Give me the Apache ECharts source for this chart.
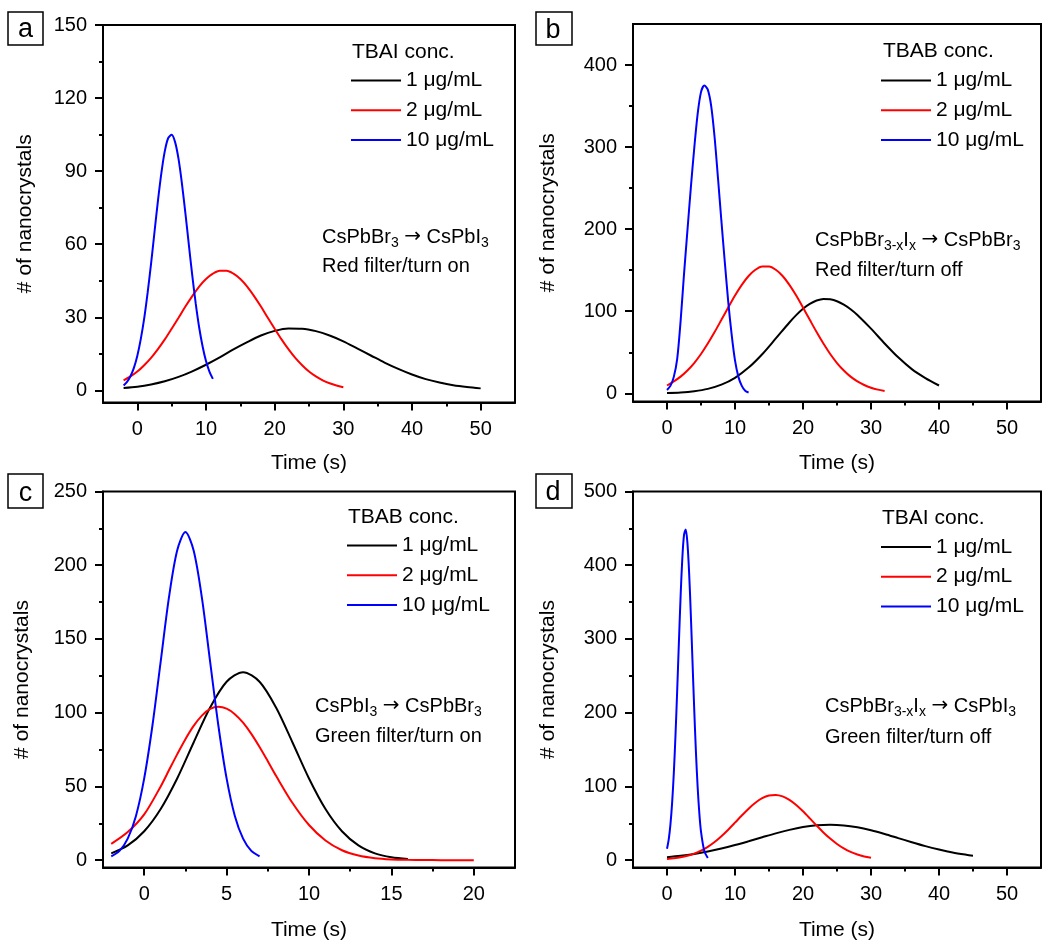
<!DOCTYPE html>
<html><head><meta charset="utf-8">
<script src="https://cdn.jsdelivr.net/npm/echarts@6/dist/echarts.min.js"></script>
<style>html,body{margin:0;padding:0;background:#fff}#c{width:1042px;height:942px}</style>
</head><body><div id="c"></div>
<script>
// ---------- data ----------
const seriesNames = ['1 μg/mL', '2 μg/mL', '10 μg/mL'];

// panel a: TBAI, CsPbBr3 -> CsPbI3, red filter / turn on
const a1 = [[-2,1.0],[0,1.5],[2,2.4],[4,3.7],[6,5.5],[8,7.8],[10,10.5],[12,13.5],[14,16.8],[16,19.8],[18,22.5],[20,24.4],[22,25.4],[24,25.3],[26,24.3],[28,22.5],[30,20.1],[32,17.2],[34,14.3],[36,11.4],[38,8.8],[40,6.5],[42,4.6],[44,3.2],[46,2.1],[48,1.35],[50,0.8]];
const a2 = [[-2,4.1],[-1,5.7],[0,7.7],[1,10.3],[2,13.3],[3,16.9],[4,20.9],[5,25.3],[6,29.8],[7,34.4],[8,38.7],[9,42.6],[10,45.7],[11,47.9],[12,49.1],[13,49.1],[14,47.9],[15,45.7],[16,42.6],[17,38.7],[18,34.4],[19,29.8],[20,25.3],[21,20.9],[22,16.9],[23,13.3],[24,10.3],[25,7.7],[26,5.7],[27,4.1],[28,2.9],[29,2.0],[30,1.3]];
const a3 = [[-2,2.0],[-1.5,3.5],[-1,5.8],[-0.5,9.2],[0,14.2],[0.5,21],[1,29.5],[1.5,40.1],[2,52],[2.5,65],[3,77.8],[3.5,89.2],[4,98.2],[4.5,103.6],[5,104.9],[5.5,101.9],[6,95],[6.5,84.8],[7,72.7],[7.5,59.8],[8,47.2],[8.5,35.7],[9,25.9],[9.5,18.1],[10,12],[10.5,7.7],[11,4.7]];

// panel b: TBAB, CsPbBr3-xIx -> CsPbBr3, red filter / turn off
const b1 = [[0,0.5],[2,1.1],[4,2.6],[6,5.4],[8,10.5],[10,18.9],[12,31.3],[14,47.6],[16,66.8],[18,86.3],[19,95.2],[20,103],[21,108.9],[22,113],[23,115],[24,114.5],[25,112.2],[26,108.1],[27,102.5],[28,95.5],[30,78.8],[32,60.7],[34,43.8],[36,29.5],[38,18.6],[40,9.5]];
const b2 = [[0,9.5],[1,14.5],[2,20.3],[3,27.8],[4,36.9],[5,47.9],[6,60.6],[7,74.6],[8,89.5],[9,104.6],[10,119.2],[11,132.2],[12,142.9],[13,150.5],[14,154.5],[15,154.5],[16,150.5],[17,142.9],[18,132.2],[19,119.2],[20,104.6],[21,89.5],[22,74.6],[23,60.6],[24,47.9],[25,36.9],[26,27.8],[27,20.3],[28,14.5],[29,10.1],[30,6.8],[31,4.5],[32,2.9]];
const b3 = [[0,4],[0.5,9],[1,20],[1.5,42],[2,88],[2.5,145],[3,198],[3.5,250],[4,298],[4.5,340],[5,367],[5.5,375],[6,370],[6.5,350],[7,312],[7.5,262],[8,210],[8.5,160],[9,112],[9.5,72],[10,40],[10.5,20],[11,9],[11.5,3],[12,1]];

// panel c: TBAB, CsPbI3 -> CsPbBr3, green filter / turn on
const c1 = [[-2,4.6],[-1,10],[0,19.6],[1,34.7],[2,55.4],[3,79.8],[4,103.5],[5,121],[6,127.5],[7,121],[8,103.5],[9,79.8],[10,55.4],[11,34.7],[12,19.6],[13,10],[14,4.6],[15,1.9],[16,0.7]];
const c2 = [[-2,11],[-1,19],[0,31],[1,50],[1.5,60.9],[2,71.7],[2.5,82],[3,91],[3.5,98],[4,102.5],[4.5,104],[5,102.7],[5.5,99],[6,93.2],[6.5,85.6],[7,76.7],[7.5,67.1],[8,57.2],[9,38.7],[10,23.8],[11,13.3],[12,6.7],[13,3.1],[14,1.3],[15,0.5],[16,0.2],[17,0.1],[18,0],[19,0],[20,0]];
const c3 = [[-2,2.5],[-1.5,6.3],[-1,14.6],[-0.5,30],[0,55.4],[0.5,91.3],[1,134.6],[1.5,178],[2,210],[2.5,222.5],[3,210],[3.5,178],[4,134.6],[4.5,91.3],[5,55.4],[5.5,30],[6,14.6],[6.5,6.3],[7,2.5]];

// panel d: TBAI, CsPbBr3-xIx -> CsPbI3, green filter / turn off
const d1 = [[0,3.9],[2,5.8],[4,8.4],[6,11.7],[8,15.7],[10,20.4],[12,25.6],[14,31],[16,36.3],[18,41],[20,44.8],[22,47.2],[24,48],[26,47.1],[28,44.5],[30,40.5],[32,35.5],[34,29.9],[36,24.3],[38,19],[40,14.4],[42,10.4],[44,7.3],[45,6]];
const d2 = [[0,1.4],[1,2.4],[2,3.8],[3,5.9],[4,8.9],[5,12.9],[6,18.1],[7,24.6],[8,32.4],[9,41.3],[10,50.8],[11,60.5],[12,69.8],[13,77.8],[14,84],[15,87.7],[16,88.5],[17,86.5],[18,81.8],[19,74.8],[20,66.2],[21,56.7],[22,46.9],[23,37.6],[24,29.2],[25,21.9],[26,15.9],[27,11.1],[28,7.6],[29,5.0],[30,3.2]];
const d3 = [[0,15.4],[0.25,27.8],[0.5,47.8],[0.75,77.3],[1,117.8],[1.25,169.7],[1.5,230.5],[1.75,295.6],[2,357.8],[2.25,408.8],[2.5,440.8],[2.75,448.5],[3,430.6],[3.25,390.3],[3.5,333.9],[3.75,269.5],[4,205.3],[4.25,147.6],[4.5,100.2],[4.75,64.2],[5,38.8],[5.5,11.9],[6,2.9]];

// tick values
const xTicksTime50 = [0,10,20,30,40,50];
const xMinorTime50 = [5,15,25,35,45];
const xTicksTime20 = [0,5,10,15,20];
const xMinorTime20 = [2.5,7.5,12.5,17.5];
const yTicksA = [0,30,60,90,120,150];
const yMinorA = [15,45,75,105,135];
const yTicksB = [0,100,200,300,400];
const yMinorB = [50,150,250,350];
const yTicksC = [0,50,100,150,200,250];
const yMinorC = [25,75,125,175,225];
const yTicksD = [0,100,200,300,400,500];
const yMinorD = [50,150,250,350,450];

// axis ranges
const xRangeA = [-5,55], yRangeA = [-5,150];
const xRangeB = [-5,55], yRangeB = [-10,450];
const xRangeC = [-2.5,22.5], yRangeC = [-5,250];
const xRangeD = [-5,55], yRangeD = [-10,500];

// texts
const legendTitles = ['TBAI conc.', 'TBAB conc.', 'TBAB conc.', 'TBAI conc.'];
const panelLetters = ['a', 'b', 'c', 'd'];
const noteLine1 = [
  '{n|CsPbBr}{s|3}{n| }{a|→}{n| CsPbI}{s|3}',
  '{n|CsPbBr}{s|3-x}{n|I}{s|x}{n| }{a|→}{n| CsPbBr}{s|3}',
  '{n|CsPbI}{s|3}{n| }{a|→}{n| CsPbBr}{s|3}',
  '{n|CsPbBr}{s|3-x}{n|I}{s|x}{n| }{a|→}{n| CsPbI}{s|3}'
];
const noteLine2 = ['Red filter/turn on', 'Red filter/turn off', 'Green filter/turn on', 'Green filter/turn off'];
const xTitle = 'Time (s)';
const yTitle = '# of nanocrystals';

// ---------- layout / styles ----------
const F = '"Liberation Sans", Arial, Helvetica, sans-serif';
const colors = ['#000000', '#ff0000', '#0000ff'];
const panels = [
  {grid:{left:103, top:25, width:412, height:377.5}, xr:xRangeA, yr:yRangeA, xt:xTicksTime50, xm:xMinorTime50, yt:yTicksA, ym:yMinorA, data:[a1,a2,a3], yGap:67, xGap:50,
   legend:{left:351, top:70}, title:[352,52.5], notes:[322,237,266], box:[8,12,35,33], letter:[25.5,30]},
  {grid:{left:633, top:24, width:408, height:377.5}, xr:xRangeB, yr:yRangeB, xt:xTicksTime50, xm:xMinorTime50, yt:yTicksB, ym:yMinorB, data:[b1,b2,b3], yGap:74, xGap:51,
   legend:{left:881, top:70}, title:[883,51.5], notes:[815,240,270], box:[536,12,36,33], letter:[553,31]},
  {grid:{left:103, top:491.5, width:412, height:376}, xr:xRangeC, yr:yRangeC, xt:xTicksTime20, xm:xMinorTime20, yt:yTicksC, ym:yMinorC, data:[c1,c2,c3], yGap:70.5, xGap:52.5,
   legend:{left:347, top:535}, title:[348,517], notes:[315,706,736], box:[8,474,35,34], letter:[25.5,493.5]},
  {grid:{left:633, top:491.5, width:408, height:376}, xr:xRangeD, yr:yRangeD, xt:xTicksTime50, xm:xMinorTime50, yt:yTicksD, ym:yMinorD, data:[d1,d2,d3], yGap:74, xGap:52.5,
   legend:{left:881, top:536.5}, title:[882,518.5], notes:[825,706,737], box:[536,474,36,34], letter:[553,493]}
];

const nameStyle = {fontSize:21, fontFamily:F, color:'#000'};
const lineBlack = {color:'#000', width:2};

const grids = [], xMain = [], yMain = [], xMin = [], yMin = [], series = [], legends = [], graphics = [];
panels.forEach((p, gi) => {
  grids.push(Object.assign({show:true, borderColor:'#000', borderWidth:2, backgroundColor:'transparent', containLabel:false, outerBoundsMode:'none'}, p.grid));
  xMain.push({type:'value', gridIndex:gi, position:'bottom', min:p.xr[0], max:p.xr[1],
    name:xTitle, nameLocation:'middle', nameGap:p.xGap, nameTextStyle:nameStyle,
    axisLine:{show:true, onZero:false, lineStyle:lineBlack},
    axisTick:{show:true, inside:false, length:8, lineStyle:lineBlack, customValues:p.xt},
    axisLabel:{show:true, margin:17, fontSize:20, fontFamily:F, color:'#000', customValues:p.xt},
    splitLine:{show:false}, minorTick:{show:false}, silent:true});
  yMain.push({type:'value', gridIndex:gi, position:'left', min:p.yr[0], max:p.yr[1],
    name:yTitle, nameLocation:'middle', nameGap:p.yGap, nameTextStyle:nameStyle,
    axisLine:{show:true, onZero:false, lineStyle:lineBlack},
    axisTick:{show:true, inside:false, length:8, lineStyle:lineBlack, customValues:p.yt},
    axisLabel:{show:true, margin:16, fontSize:20, fontFamily:F, color:'#000', customValues:p.yt},
    splitLine:{show:false}, minorTick:{show:false}, silent:true});
  xMin.push({type:'value', gridIndex:gi, position:'bottom', min:p.xr[0], max:p.xr[1],
    axisLine:{show:false, onZero:false}, axisTick:{show:true, inside:false, length:4, lineStyle:lineBlack, customValues:p.xm},
    axisLabel:{show:false}, splitLine:{show:false}, silent:true});
  yMin.push({type:'value', gridIndex:gi, position:'left', min:p.yr[0], max:p.yr[1],
    axisLine:{show:false, onZero:false}, axisTick:{show:true, inside:false, length:4, lineStyle:lineBlack, customValues:p.ym},
    axisLabel:{show:false}, splitLine:{show:false}, silent:true});
  p.data.forEach((d, si) => {
    series.push({type:'line', name:seriesNames[si], xAxisIndex:gi, yAxisIndex:gi, data:d,
      smooth:0.3, symbol:'none', showSymbol:false, silent:true, animation:false,
      lineStyle:{color:colors[si], width:2}, itemStyle:{color:colors[si]}});
  });
  legends.push({orient:'vertical', left:p.legend.left, top:p.legend.top, padding:0, icon:'rect', itemWidth:50, itemHeight:2, itemGap:8.7,
    selectedMode:false, data:seriesNames, textStyle:{fontSize:21, fontFamily:F, color:'#000', lineHeight:20}});
  graphics.push({type:'text', x:p.title[0], y:p.title[1], silent:true,
    style:{text:legendTitles[gi], fill:'#000', fontSize:21, fontFamily:F, align:'left', verticalAlign:'middle'}});
  graphics.push({type:'text', x:p.notes[0], y:p.notes[1], silent:true,
    style:{text:noteLine1[gi], fill:'#000', align:'left', verticalAlign:'middle',
      rich:{n:{fontSize:20, fontFamily:F, fill:'#000', lineHeight:26},
            a:{fontSize:20, fontFamily:'"DejaVu Sans", sans-serif', fill:'#000', lineHeight:26},
            s:{fontSize:14, fontFamily:F, fill:'#000', lineHeight:14, verticalAlign:'bottom'}}}});
  graphics.push({type:'text', x:p.notes[0], y:p.notes[2], silent:true,
    style:{text:noteLine2[gi], fill:'#000', fontSize:20, fontFamily:F, align:'left', verticalAlign:'middle'}});
  graphics.push({type:'rect', silent:true, shape:{x:p.box[0], y:p.box[1], width:p.box[2], height:p.box[3]},
    style:{fill:'#fff', stroke:'#000', lineWidth:1.5}});
  graphics.push({type:'text', x:p.letter[0], y:p.letter[1], silent:true,
    style:{text:panelLetters[gi], fill:'#000', fontSize:27, fontFamily:F, align:'center', verticalAlign:'middle'}});
});

const chart = echarts.init(document.getElementById('c'), null, {renderer:'canvas'});
chart.setOption({
  backgroundColor:'#ffffff',
  animation:false,
  textStyle:{fontFamily:F},
  grid:grids,
  xAxis:xMain.concat(xMin),
  yAxis:yMain.concat(yMin),
  legend:legends,
  series:series,
  graphic:{elements:graphics}
});
</script>
</body></html>
